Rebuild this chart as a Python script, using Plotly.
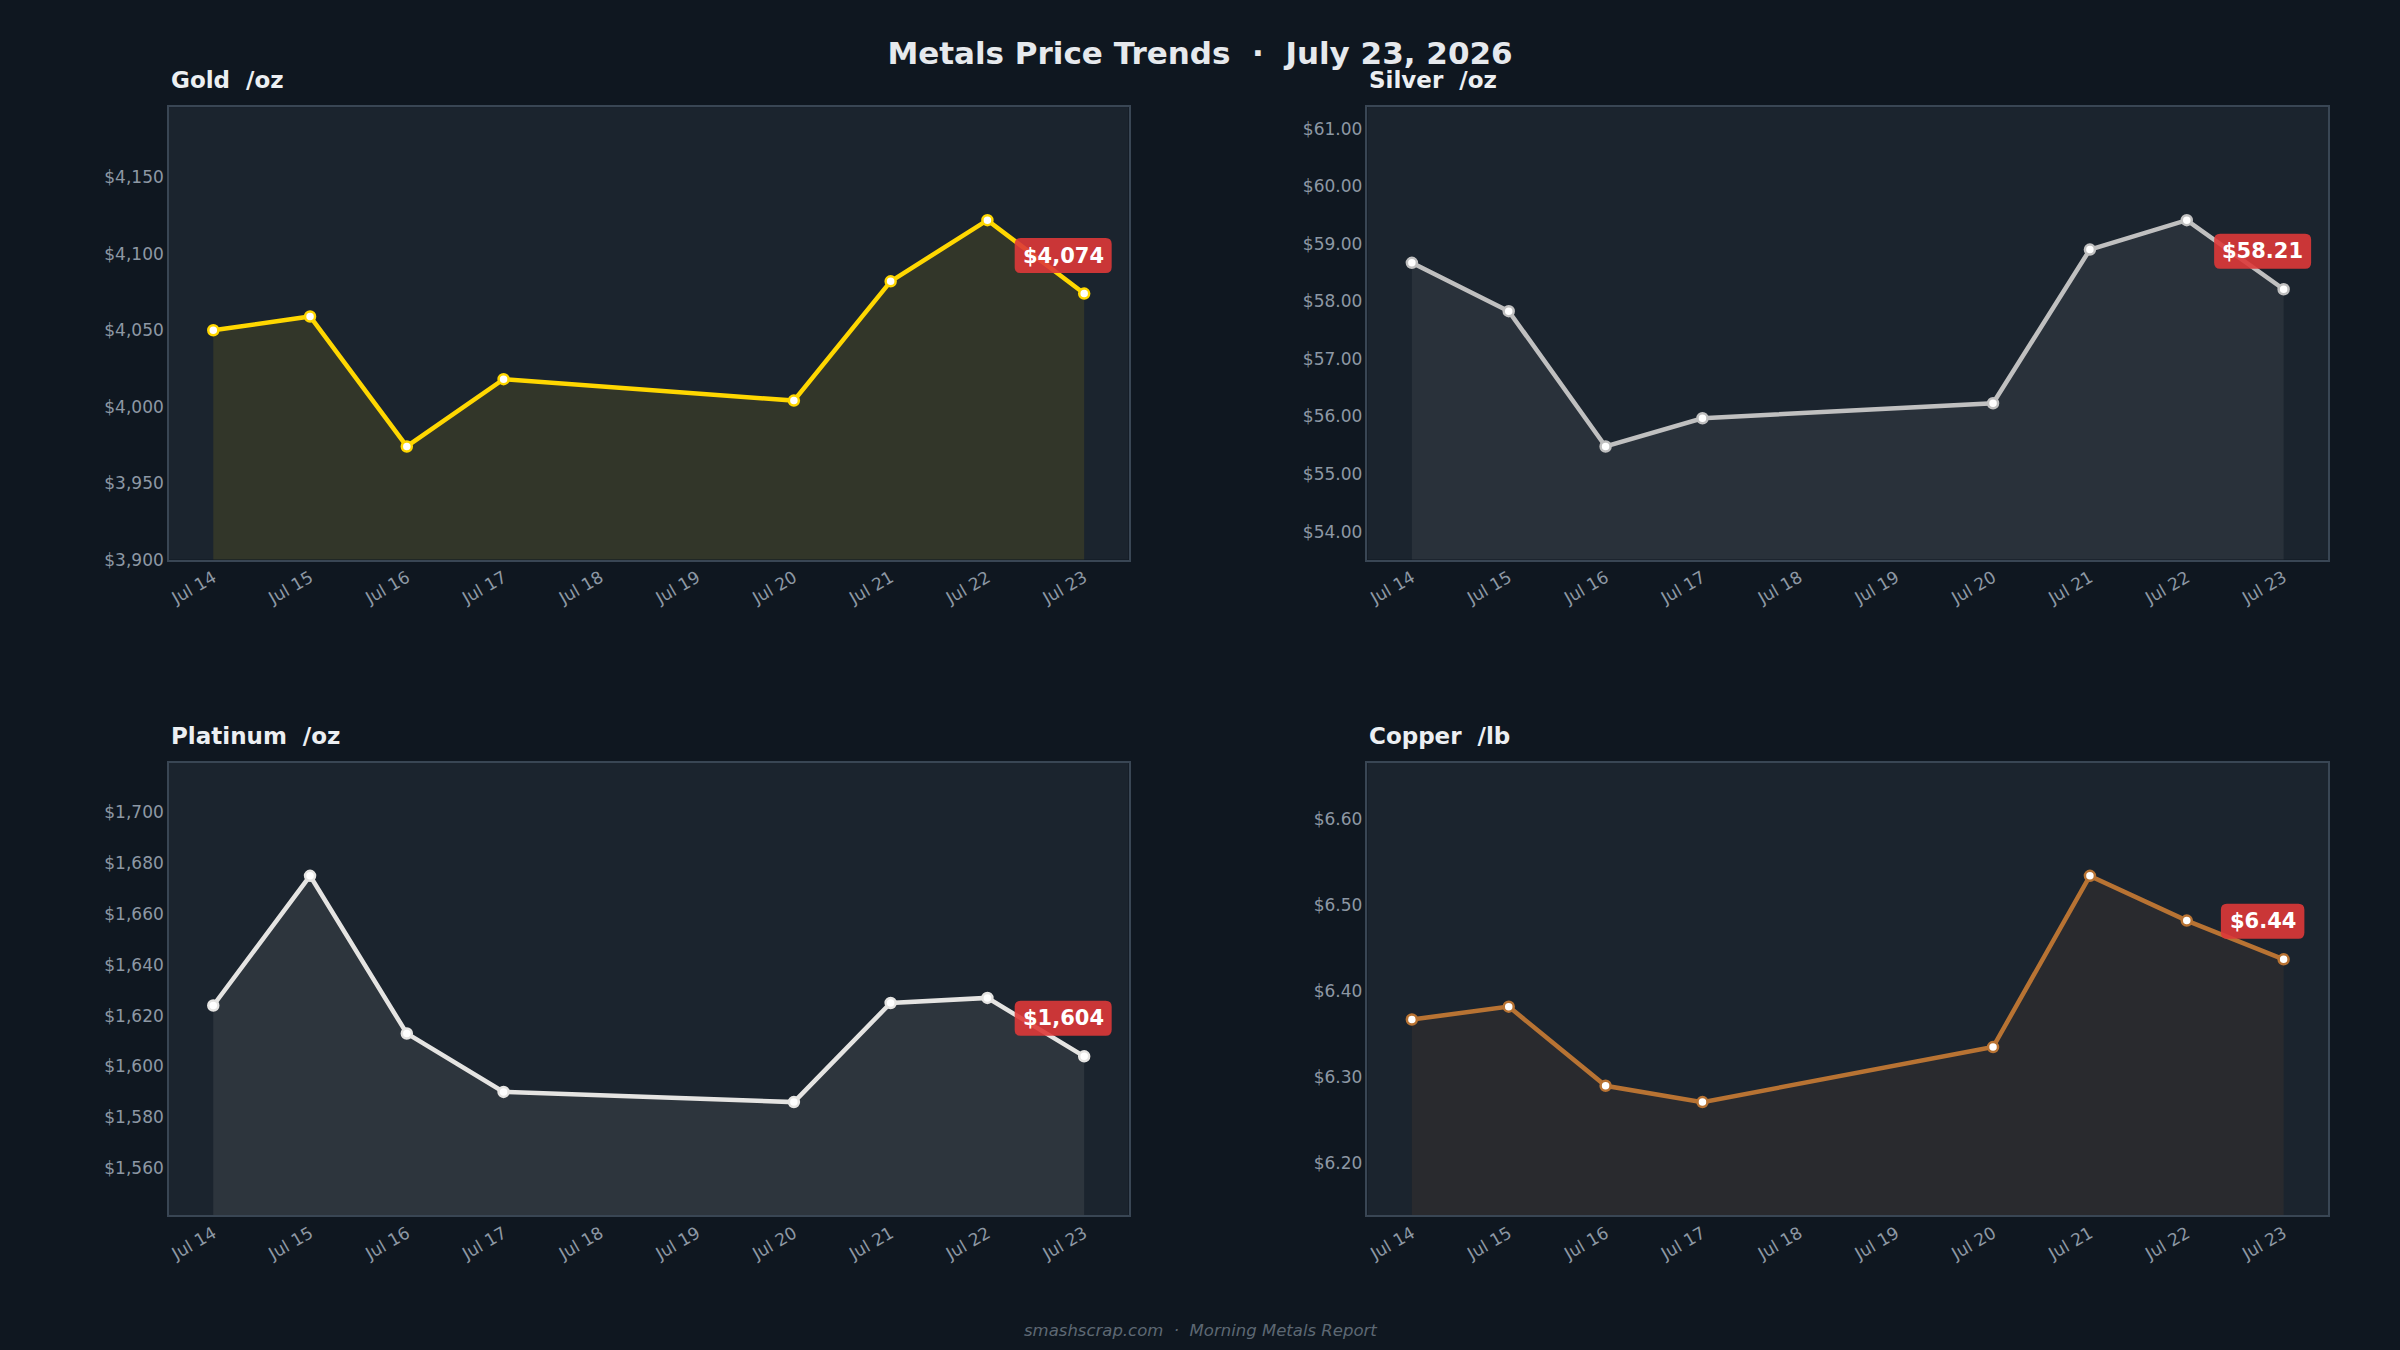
import plotly.graph_objects as go

# ---- data ----
dates = ["2026-07-14", "2026-07-15", "2026-07-16", "2026-07-17",
         "2026-07-20", "2026-07-21", "2026-07-22", "2026-07-23"]
gold = [4050, 4059, 3974, 4018, 4004, 4082, 4122, 4074]
silver = [58.67, 57.83, 55.48, 55.97, 56.23, 58.90, 59.41, 58.21]
platinum = [1624, 1675, 1613, 1590, 1586, 1625, 1627, 1604]
copper = [6.367, 6.382, 6.290, 6.271, 6.335, 6.534, 6.482, 6.437]

metal_names = ["Gold  /oz", "Silver  /oz", "Platinum  /oz", "Copper  /lb"]
badge_labels = ["$4,074", "$58.21", "$1,604", "$6.44"]
title_text = "Metals Price Trends  ·  July 23, 2026"
footer_text = "smashscrap.com  ·  Morning Metals Report"

# ---- styles ----
PAPER = "#0f1720"
PLOT = "#1b242e"
BORDER = "#394654"
TICK = "#8d98a4"
FONT = "DejaVu Sans"
BADGE = "rgba(222,56,56,0.9)"

series = [
    dict(y=gold, color="#FFD700", fill="rgba(255,215,0,0.10)", fmt=",.0f", dtick=50),
    dict(y=silver, color="#C0C0C0", fill="rgba(192,192,192,0.09)", fmt=".2f", dtick=1),
    dict(y=platinum, color="#E5E4E2", fill="rgba(229,228,226,0.09)", fmt=",.0f", dtick=20),
    dict(y=copper, color="#B87333", fill="rgba(184,115,51,0.09)", fmt=".2f", dtick=0.1),
]

xdom = [[0.07, 0.47], [0.5696, 0.97], [0.07, 0.47], [0.5696, 0.97]]
ydom = [[0.5824, 0.9201], [0.5824, 0.9201], [0.0931, 0.4308], [0.0931, 0.4308]]
title_y = [0.9405, 0.9405, 0.4510, 0.4510]


def rounded_box(cx, cy, hw, hh, r):
    return (f"M {cx-hw+r},{cy-hh} L {cx+hw-r},{cy-hh} Q {cx+hw},{cy-hh} {cx+hw},{cy-hh+r} "
            f"L {cx+hw},{cy+hh-r} Q {cx+hw},{cy+hh} {cx+hw-r},{cy+hh} "
            f"L {cx-hw+r},{cy+hh} Q {cx-hw},{cy+hh} {cx-hw},{cy+hh-r} "
            f"L {cx-hw},{cy-hh+r} Q {cx-hw},{cy-hh} {cx-hw+r},{cy-hh} Z")


fig = go.Figure()
layout = dict(
    width=2400, height=1350,
    paper_bgcolor=PAPER, plot_bgcolor=PLOT,
    margin=dict(l=0, r=0, t=0, b=0),
    showlegend=False,
    font=dict(family=FONT, color=TICK, size=17),
    title=dict(text="<b>" + title_text + "</b>", x=0.5, xanchor="center",
               y=0.9605, yanchor="middle",
               font=dict(family=FONT, size=31, color="#e6e9ed")),
)
annotations = []
shapes = []

for i, s in enumerate(series):
    n = "" if i == 0 else str(i + 1)
    xa, ya = "x" + n, "y" + n
    vals = s["y"]
    spread = max(vals) - min(vals)
    lo, hi = min(vals) - 0.5 * spread, max(vals) + 0.5 * spread
    fig.add_trace(go.Scatter(
        x=dates, y=vals, xaxis=xa, yaxis=ya, mode="lines+markers",
        fill="tozeroy", fillcolor=s["fill"],
        line=dict(color=s["color"], width=4.5),
        marker=dict(size=10, color="white", line=dict(color=s["color"], width=2.5)),
        hoverinfo="x+y",
    ))
    layout["xaxis" + n] = dict(
        domain=xdom[i], anchor=ya, type="date",
        range=["2026-07-13 13:00", "2026-07-23 11:00"],
        tick0="2026-07-14", dtick=86400000, tickformat="%b %d",
        tickangle=-30, showgrid=False, zeroline=False,
        showline=True, mirror=True, linecolor=BORDER, linewidth=1.5,
        tickfont=dict(size=17, color=TICK), ticks="",
    )
    layout["yaxis" + n] = dict(
        domain=ydom[i], anchor=xa, range=[lo, hi],
        tickprefix="$", tickformat=s["fmt"], dtick=s["dtick"],
        showgrid=False, zeroline=False,
        showline=True, mirror=True, linecolor=BORDER, linewidth=1.5,
        tickfont=dict(size=17, color=TICK), ticks="",
    )
    annotations.append(dict(
        text="<b>" + metal_names[i] + "</b>", xref="paper", yref="paper",
        x=xdom[i][0], y=title_y[i], xanchor="left", yanchor="middle",
        showarrow=False, font=dict(family=FONT, size=23, color="#eceff2"),
    ))
    # rounded badge behind the last-value label
    half_w = (13.5 * len(badge_labels[i]) + 16) / 2
    shapes.append(dict(
        type="path", xref=xa, yref=ya, xsizemode="pixel", ysizemode="pixel",
        xanchor=dates[-1], yanchor=vals[-1],
        path=rounded_box(-21, 38, half_w, 17.5, 6),
        fillcolor=BADGE, line=dict(width=0), layer="above",
    ))
    annotations.append(dict(
        text="<b>" + badge_labels[i] + "</b>", xref=xa, yref=ya,
        x=dates[-1], y=vals[-1], xshift=-21, yshift=38,
        xanchor="center", yanchor="middle", showarrow=False,
        font=dict(family=FONT, size=21, color="white"),
    ))

annotations.append(dict(
    text="<i>" + footer_text + "</i>", xref="paper", yref="paper",
    x=0.5, y=0.0072, xanchor="center", yanchor="middle", showarrow=False,
    font=dict(family=FONT, size=16.5, color="#5d6873"),
))
layout["annotations"] = annotations
layout["shapes"] = shapes
fig.update_layout(**layout)
fig.write_html("out.html")
